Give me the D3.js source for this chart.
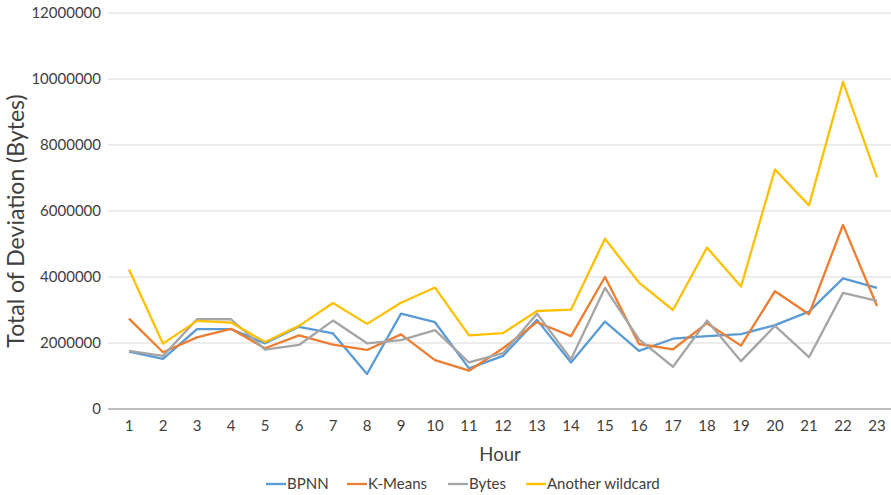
<!DOCTYPE html>
<html><head><meta charset="utf-8">
<script src="https://cdn.jsdelivr.net/npm/d3@7"></script>
<style>body{margin:0;background:#fff}svg{display:block}text{font-family:Lato,"Open Sans",sans-serif;fill:#404040}</style>
</head><body><svg id="c" width="891" height="495"></svg>
<script>
const hours = ["1","2","3","4","5","6","7","8","9","10","11","12","13","14","15","16","17","18","19","20","21","22","23"];
const bpnn = [1740000,1520000,2420000,2420000,1990000,2490000,2290000,1060000,2890000,2630000,1230000,1610000,2700000,1410000,2650000,1760000,2130000,2210000,2270000,2540000,2950000,3960000,3670000];
const kmeans = [2740000,1720000,2170000,2430000,1840000,2230000,1950000,1790000,2260000,1480000,1160000,1840000,2630000,2210000,4000000,1970000,1810000,2600000,1920000,3570000,2870000,5580000,3120000];
const bytes = [1760000,1610000,2720000,2720000,1800000,1940000,2680000,1990000,2090000,2390000,1410000,1690000,2890000,1510000,3670000,2110000,1280000,2680000,1450000,2520000,1570000,3520000,3280000];
const wildcard = [4230000,1980000,2670000,2620000,2030000,2520000,3210000,2580000,3220000,3680000,2230000,2300000,2970000,3010000,5160000,3830000,3000000,4890000,3710000,7260000,6170000,9910000,7020000];
const yTicks = [0,2000000,4000000,6000000,8000000,10000000,12000000];
const seriesNames = ["BPNN","K-Means","Bytes","Another wildcard"];
const colors = ["#5B9BD5","#ED7D31","#A5A5A5","#FFC000"];
const series = [bpnn,kmeans,bytes,wildcard];

const svg = d3.select("#c");
const L = 112, R = 894, T = 13, B = 409;
const x = d3.scaleBand().domain(hours).range([L, R]);
const y = d3.scaleLinear().domain([0,12000000]).range([B, T]);

svg.append("g").selectAll("line").data(yTicks.slice(1)).join("line")
  .attr("x1", L-4).attr("x2", 891).attr("y1", d=>y(d)).attr("y2", d=>y(d))
  .attr("stroke","#d9d9d9").attr("stroke-width",1);

svg.append("g").selectAll("text").data(yTicks).join("text")
  .attr("x", 101).attr("y", d=>y(d)).attr("dy","0.35em").attr("text-anchor","end")
  .attr("font-size",15).text(d=>d);

const xa = svg.append("g").attr("transform",`translate(0,${B})`).call(d3.axisBottom(x).tickSize(0).tickPadding(11));
xa.select(".domain").attr("stroke","#7f7f7f").attr("stroke-width",1.2).attr("d",`M${L-4},0H891`);
xa.selectAll("text").attr("font-size",15).attr("fill","#404040").style("font-family",'Lato,"Open Sans",sans-serif');

const line = d3.line().x((d,i)=>x(hours[i])+x.bandwidth()/2).y(d=>y(d));
series.forEach((s,k)=>{
  svg.append("path").datum(s).attr("d",line).attr("fill","none")
    .attr("stroke",colors[k]).attr("stroke-width",2.3).attr("stroke-linejoin","round");
});

svg.append("text").attr("x",500).attr("y",461).attr("text-anchor","middle").attr("font-size",18.5).attr("fill","#262626").text("Hour");
svg.append("text").attr("transform","translate(24,221) rotate(-90)").attr("text-anchor","middle").attr("font-size",23).attr("fill","#262626").text("Total of Deviation (Bytes)");

const lx = [266,347,448,526];
const lg = svg.append("g");
seriesNames.forEach((n,k)=>{
  lg.append("line").attr("x1",lx[k]).attr("x2",lx[k]+20).attr("y1",484).attr("y2",484).attr("stroke",colors[k]).attr("stroke-width",2.3);
  lg.append("text").attr("x",lx[k]+21).attr("y",484).attr("dy","0.35em").attr("font-size",15).text(n);
});
</script></body></html>
